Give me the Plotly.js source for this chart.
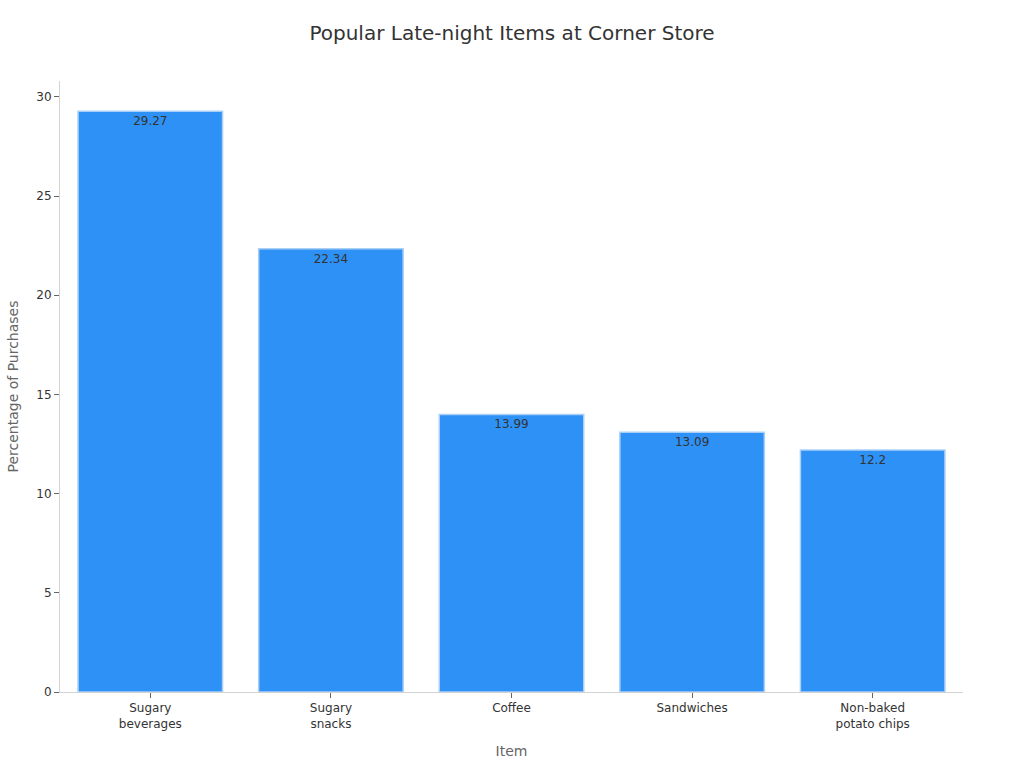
<!DOCTYPE html>
<html>
<head>
<meta charset="utf-8">
<script src="https://cdn.plot.ly/plotly-3.0.1.min.js"></script>
<style>
  html, body { margin: 0; padding: 0; background: #fff; }
  #chart { width: 1024px; height: 768px; }
</style>
</head>
<body>
<div id="chart"></div>
<script>
var items = ['Sugary<br>beverages', 'Sugary<br>snacks', 'Coffee', 'Sandwiches', 'Non-baked<br>potato chips'];
var percentages = [29.27, 22.34, 13.99, 13.09, 12.2];

var trace = {
  x: items,
  y: percentages,
  type: 'bar',
  text: percentages.map(String),
  textposition: 'inside',
  insidetextanchor: 'end',
  textfont: {family: 'DejaVu Sans', size: 12, color: '#333'},
  marker: {
    color: '#2e91f5',
    line: {color: '#a9cff7', width: 1.5}
  },
  hoverinfo: 'x+y'
};

var layout = {
  width: 1024,
  height: 768,
  font: {family: 'DejaVu Sans', size: 12, color: '#333'},
  title: {text: 'Popular Late-night Items at Corner Store', font: {size: 20, color: '#333'}, x: 0.5, y: 0.966},
  margin: {l: 60, r: 61, t: 81, b: 76},
  bargap: 0.2,
  paper_bgcolor: '#fff',
  plot_bgcolor: '#fff',
  xaxis: {
    title: {text: 'Item', font: {size: 14, color: '#666'}, standoff: 16},
    showline: true,
    linecolor: '#d3d3d3',
    ticks: 'outside',
    tickcolor: '#666',
    ticklen: 5,
    showgrid: false
  },
  yaxis: {
    title: {text: 'Percentage of Purchases', font: {size: 14, color: '#666'}, standoff: 14},
    range: [0, 30.8],
    dtick: 5,
    showline: true,
    linecolor: '#d3d3d3',
    ticks: 'outside',
    tickcolor: '#666',
    ticklen: 5,
    showgrid: false,
    zeroline: false
  },
  showlegend: false
};

Plotly.newPlot('chart', [trace], layout, {displayModeBar: false});
</script>
</body>
</html>
